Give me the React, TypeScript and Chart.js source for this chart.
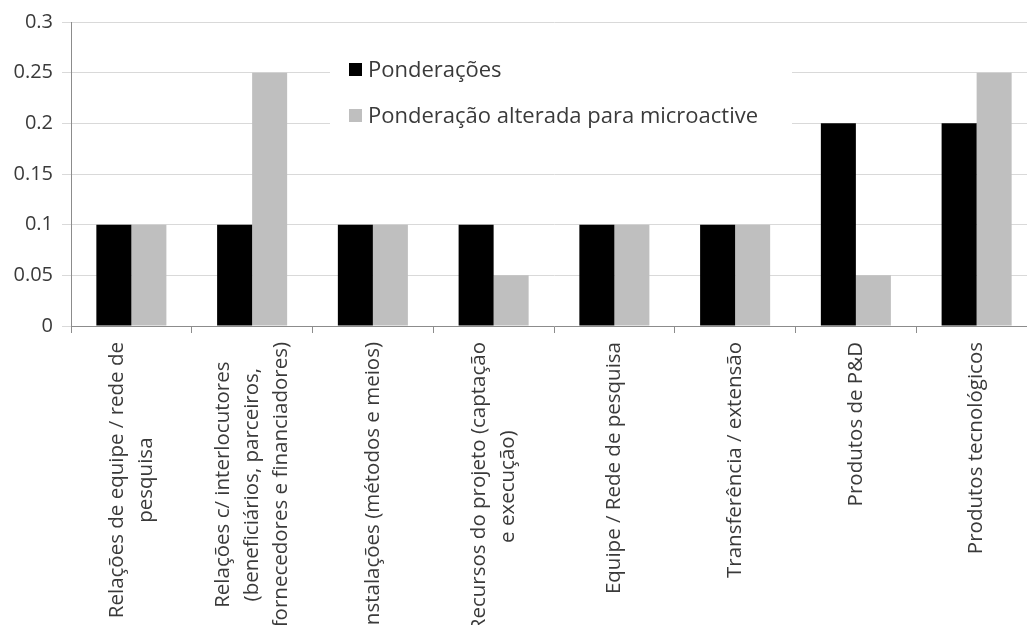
import React, { useEffect, useRef } from "react";
import { Chart, registerables } from "chart.js";

Chart.register(...registerables);

// Category labels, one entry per line of the wrapped text
const categories: string[][] = [
  ["Relações de equipe / rede de", "pesquisa"],
  ["Relações c/ interlocutores", "(beneficiários, parceiros,", "fornecedores e financiadores)"],
  ["Instalações (métodos e meios)"],
  ["Recursos do projeto (captação", "e execução)"],
  ["Equipe / Rede de pesquisa"],
  ["Transferência / extensão"],
  ["Produtos de P&D"],
  ["Produtos tecnológicos"],
];

const seriesNames = ["Ponderações", "Ponderação alterada para microactive"];
const ponderacoes = [0.1, 0.1, 0.1, 0.1, 0.1, 0.1, 0.2, 0.2];
const ponderacaoAlterada = [0.1, 0.25, 0.1, 0.05, 0.1, 0.1, 0.05, 0.25];
const yTicks = [0, 0.05, 0.1, 0.15, 0.2, 0.25, 0.3];

const FONT = '"Open Sans", "DejaVu Sans", sans-serif';
const TEXT = "#3a3a3a";
const AXIS = "#8c8c8c";
const GRID = "#d9d9d9";

// Rotated, centred multi-line category labels below the x axis
const categoryLabelPlugin = {
  id: "categoryLabels",
  afterDraw(chart: any) {
    const { ctx } = chart;
    const x = chart.scales.x;
    const lineH = 29;
    const top = x.top + 16;
    ctx.save();
    ctx.font = `20.5px ${FONT}`;
    ctx.fillStyle = TEXT;
    ctx.textAlign = "center";
    ctx.textBaseline = "middle";
    (chart.data.labels as string[][]).forEach((lines, i) => {
      const cx = x.getPixelForTick(i);
      const maxW = Math.max(...lines.map((l) => ctx.measureText(l).width));
      const n = lines.length;
      lines.forEach((line, j) => {
        const lx = cx + (j - (n - 1) / 2) * lineH;
        ctx.save();
        ctx.translate(lx, top + maxW / 2);
        ctx.rotate(-Math.PI / 2);
        ctx.fillText(line, 0, 0);
        ctx.restore();
      });
    });
    ctx.restore();
  },
};

// Legend box drawn inside the plot area
const insideLegendPlugin = {
  id: "insideLegend",
  afterDatasetsDraw(chart: any) {
    const { ctx } = chart;
    ctx.save();
    ctx.fillStyle = "#ffffff";
    ctx.fillRect(330, 40, 462, 100);
    ctx.font = `22px ${FONT}`;
    ctx.textAlign = "left";
    ctx.textBaseline = "middle";
    const rows = [69.5, 115.5];
    chart.data.datasets.forEach((ds: any, i: number) => {
      const cy = rows[i];
      ctx.fillStyle = ds.backgroundColor;
      ctx.fillRect(349, cy - 6.5, 13, 13);
      ctx.fillStyle = TEXT;
      ctx.fillText(ds.label, 368, cy + 1);
    });
    ctx.restore();
  },
};

export default function App() {
  const canvasRef = useRef<HTMLCanvasElement | null>(null);

  useEffect(() => {
    if (!canvasRef.current) return;
    const chart = new Chart(canvasRef.current, {
      type: "bar",
      data: {
        labels: categories as any,
        datasets: [
          {
            label: seriesNames[0],
            data: ponderacoes,
            backgroundColor: "#000000",
            categoryPercentage: 0.58,
            barPercentage: 1,
          },
          {
            label: seriesNames[1],
            data: ponderacaoAlterada,
            backgroundColor: "#bfbfbf",
            categoryPercentage: 0.58,
            barPercentage: 1,
          },
        ],
      },
      options: {
        responsive: false,
        animation: false,
        layout: { padding: { top: 22, right: 0, bottom: 0, left: 0 } },
        plugins: {
          legend: { display: false },
          tooltip: { enabled: false },
        },
        scales: {
          x: {
            ticks: { display: false },
            grid: {
              drawOnChartArea: false,
              drawTicks: true,
              tickLength: 7,
              tickColor: AXIS,
              color: AXIS,
            },
            border: { display: true, color: AXIS, width: 1 },
            afterFit(scale: any) {
              scale.height = 625 - 326;
            },
          },
          y: {
            min: 0,
            max: 0.3,
            afterBuildTicks(scale: any) {
              scale.ticks = yTicks.map((v) => ({ value: v }));
            },
            ticks: {
              padding: 9,
              color: TEXT,
              font: { family: FONT, size: 20 },
              callback: (v: any) => String(+Number(v).toFixed(2)),
            },
            grid: { color: GRID, tickLength: 9, tickColor: GRID },
            border: { display: true, color: AXIS, width: 1 },
            afterFit(scale: any) {
              scale.width = 71;
            },
          },
        },
      },
      plugins: [insideLegendPlugin, categoryLabelPlugin],
    });
    return () => chart.destroy();
  }, []);

  return (
    <div
      style={{
        position: "fixed",
        left: 0,
        top: 0,
        width: 1027,
        height: 625,
        overflow: "hidden",
        background: "#ffffff",
      }}
    >
      <canvas ref={canvasRef} width={1037} height={625} style={{ display: "block" }} />
    </div>
  );
}
